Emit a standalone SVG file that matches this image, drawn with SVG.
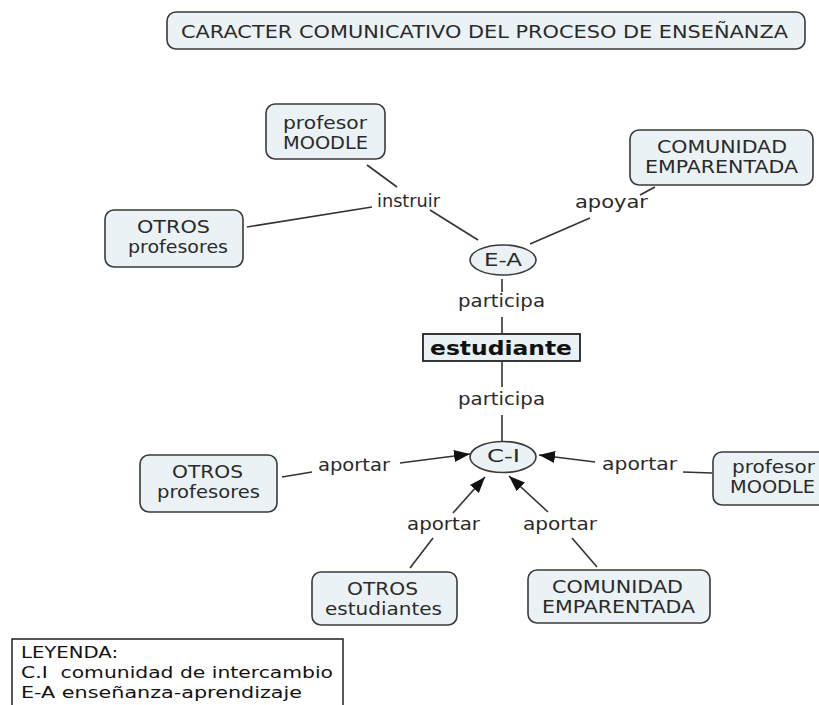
<svg xmlns="http://www.w3.org/2000/svg" width="819" height="705" viewBox="0 0 819 705">
<defs>
<marker id="arr" markerUnits="userSpaceOnUse" markerWidth="18" markerHeight="14" refX="16" refY="6" orient="auto">
<path d="M0,0 L16,6 L0,12 z" fill="#111"/>
</marker>
<style>
text{font-family:"DejaVu Sans","Verdana",sans-serif;font-size:17.5px;fill:#2a2a2a}
.node{fill:#eaf2f5;stroke:#3a3a3a;stroke-width:1.6}
.conn line{stroke:#333;stroke-width:1.6}
.arrow{marker-end:url(#arr)}
.title{font-size:17.5px}
.bold{font-weight:bold;font-size:20px;fill:#111}
.leg{font-size:16.5px;fill:#111;white-space:pre}
</style>
</defs>
<rect width="819" height="705" fill="#fff"/>

<g id="connectors" class="conn">
<line x1="367" y1="165" x2="397" y2="187"/>
<line x1="430" y1="210" x2="478" y2="240"/>
<line x1="247" y1="227" x2="372" y2="207"/>
<line x1="655" y1="187" x2="640" y2="195"/>
<line x1="590" y1="218" x2="530" y2="244"/>
<line x1="502" y1="279" x2="502" y2="292"/>
<line x1="502" y1="317" x2="502" y2="333"/>
<line x1="502" y1="362" x2="502" y2="387"/>
<line x1="502" y1="415" x2="502" y2="442"/>
<line x1="282" y1="477" x2="312" y2="472"/>
<line class="arrow" x1="400" y1="463" x2="470" y2="454"/>
<line x1="683" y1="472" x2="712" y2="473"/>
<line class="arrow" x1="595" y1="462" x2="539" y2="455"/>
<line x1="410" y1="568" x2="433" y2="538"/>
<line class="arrow" x1="453" y1="513" x2="485" y2="477"/>
<line x1="597" y1="567" x2="572" y2="538"/>
<line class="arrow" x1="548" y1="512" x2="509" y2="476"/>
</g>

<g id="title">
<rect class="node" x="167" y="12" width="638" height="37" rx="9"/>
<text class="title" x="181" y="38" textLength="607" lengthAdjust="spacingAndGlyphs">CARACTER COMUNICATIVO DEL PROCESO DE ENSEÑANZA</text>
</g>

<g id="profesor-moodle-top">
<rect class="node" x="266" y="104" width="119" height="55" rx="9"/>
<text x="283" y="129" textLength="84" lengthAdjust="spacingAndGlyphs">profesor</text>
<text x="283" y="149" textLength="85" lengthAdjust="spacingAndGlyphs">MOODLE</text>
</g>

<g id="otros-profesores-top">
<rect class="node" x="105" y="210" width="138" height="57" rx="9"/>
<text x="137" y="233" textLength="73" lengthAdjust="spacingAndGlyphs">OTROS</text>
<text x="128" y="253" textLength="100" lengthAdjust="spacingAndGlyphs">profesores</text>
</g>

<g id="comunidad-top">
<rect class="node" x="630" y="130" width="183" height="55" rx="9"/>
<text x="657" y="153" textLength="130" lengthAdjust="spacingAndGlyphs">COMUNIDAD</text>
<text x="645" y="173" textLength="153" lengthAdjust="spacingAndGlyphs">EMPARENTADA</text>
</g>

<g id="label-instruir"><text x="377" y="207" textLength="63" lengthAdjust="spacingAndGlyphs">instruir</text></g>
<g id="label-apoyar"><text x="575" y="208" textLength="73" lengthAdjust="spacingAndGlyphs">apoyar</text></g>

<g id="E-A">
<ellipse class="node" cx="503" cy="260" rx="33" ry="15"/>
<text x="484" y="266" textLength="38" lengthAdjust="spacingAndGlyphs">E-A</text>
</g>

<g id="label-participa-1"><text x="458" y="307" textLength="87" lengthAdjust="spacingAndGlyphs">participa</text></g>

<g id="estudiante">
<rect x="423" y="334" width="157" height="27" fill="#eaf2f5" stroke="#222" stroke-width="1.8"/>
<text class="bold" x="430" y="355" textLength="142" lengthAdjust="spacingAndGlyphs">estudiante</text>
</g>

<g id="label-participa-2"><text x="458" y="405" textLength="87" lengthAdjust="spacingAndGlyphs">participa</text></g>

<g id="C-I">
<ellipse class="node" cx="503" cy="457" rx="33" ry="15.5"/>
<text x="487" y="462" textLength="33" lengthAdjust="spacingAndGlyphs">C-I</text>
</g>

<g id="label-aportar-left"><text x="318" y="471" textLength="72" lengthAdjust="spacingAndGlyphs">aportar</text></g>
<g id="label-aportar-right"><text x="602" y="470" textLength="75" lengthAdjust="spacingAndGlyphs">aportar</text></g>
<g id="label-aportar-bl"><text x="407" y="530" textLength="73" lengthAdjust="spacingAndGlyphs">aportar</text></g>
<g id="label-aportar-br"><text x="523" y="530" textLength="74" lengthAdjust="spacingAndGlyphs">aportar</text></g>

<g id="otros-profesores-bottom">
<rect class="node" x="140" y="455" width="137" height="57" rx="9"/>
<text x="172" y="478" textLength="71" lengthAdjust="spacingAndGlyphs">OTROS</text>
<text x="157" y="498" textLength="103" lengthAdjust="spacingAndGlyphs">profesores</text>
</g>

<g id="profesor-moodle-right">
<rect class="node" x="713" y="452" width="121" height="53" rx="9"/>
<text x="732" y="473" textLength="83" lengthAdjust="spacingAndGlyphs">profesor</text>
<text x="730" y="493" textLength="85" lengthAdjust="spacingAndGlyphs">MOODLE</text>
</g>

<g id="otros-estudiantes">
<rect class="node" x="312" y="572" width="145" height="53" rx="9"/>
<text x="347" y="595" textLength="71" lengthAdjust="spacingAndGlyphs">OTROS</text>
<text x="325" y="615" textLength="117" lengthAdjust="spacingAndGlyphs">estudiantes</text>
</g>

<g id="comunidad-bottom">
<rect class="node" x="528" y="570" width="182" height="53" rx="9"/>
<text x="552" y="593" textLength="131" lengthAdjust="spacingAndGlyphs">COMUNIDAD</text>
<text x="542" y="613" textLength="153" lengthAdjust="spacingAndGlyphs">EMPARENTADA</text>
</g>

<g id="legend">
<rect x="12" y="639" width="331" height="80" fill="#fff" stroke="#222" stroke-width="1.5"/>
<text class="leg" x="21" y="658" textLength="97" lengthAdjust="spacingAndGlyphs">LEYENDA:</text>
<text class="leg" x="21" y="678" textLength="312" lengthAdjust="spacingAndGlyphs">C.I  comunidad de intercambio</text>
<text class="leg" x="21" y="698" textLength="281" lengthAdjust="spacingAndGlyphs">E-A enseñanza-aprendizaje</text>
</g>
</svg>
